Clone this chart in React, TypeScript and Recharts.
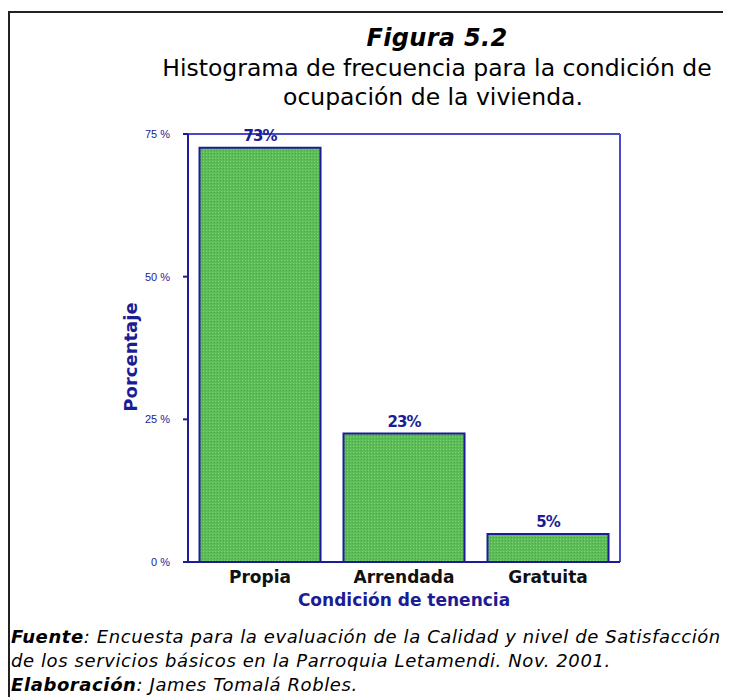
import React from 'react';
import { BarChart, Bar, XAxis, YAxis, LabelList, CartesianGrid } from 'recharts';

const categories = ['Propia', 'Arrendada', 'Gratuita'];
const values = [72.6, 22.5, 4.9];
const valueLabels = ['73%', '23%', '5%'];
const yTicks = [0, 25, 50, 75];

const data = categories.map((c, i) => ({ name: c, value: values[i], label: valueLabels[i] }));

const NAVY = '#1c1c94';
const FRAME_BLUE = '#4a4ac8';
const FONT = '"DejaVu Sans", Verdana, sans-serif';

const YTick = (props: any) => {
  const { x, y, payload } = props;
  return (
    <text x={x} y={y} dy={4} textAnchor="end" fill={NAVY} fontSize={11} fontFamily="'Liberation Sans Narrow', 'Liberation Sans', Arial, sans-serif">
      {`${payload.value} %`}
    </text>
  );
};

const XTick = (props: any) => {
  const { x, y, payload } = props;
  return (
    <text x={x} y={y} dy={13} textAnchor="middle" fill="#111" fontSize={17} fontWeight="bold" fontFamily={FONT}>
      {payload.value}
    </text>
  );
};

const YLabel = (props: any) => {
  const vb = props.viewBox || { x: 0, y: 0, width: 0, height: 0 };
  const cx = vb.x + 17;
  const cy = vb.y + vb.height / 2 + 9;
  return (
    <text x={cx} y={cy} transform={`rotate(-90 ${cx} ${cy})`} textAnchor="middle" fill={NAVY} fontSize={18} fontWeight="bold" fontFamily={FONT}>
      Porcentaje
    </text>
  );
};

export default function App() {
  return (
    <div style={{ position: 'relative', width: 723, height: 689, overflow: 'hidden', background: '#fff' }}>
      <div style={{ position: 'absolute', left: 0, top: 3, width: 800, height: 800, borderLeft: '2px solid #222', borderTop: '2px solid #222' }} />
      <div style={{ position: 'absolute', left: 429, top: 16, transform: 'translateX(-50%)', whiteSpace: 'nowrap', fontFamily: FONT, fontSize: 24, letterSpacing: '0.3px', fontWeight: 'bold', fontStyle: 'italic', lineHeight: '29px', color: '#000' }}>
        Figura 5.2
      </div>
      <div style={{ position: 'absolute', left: 429, top: 46, transform: 'translateX(-50%)', whiteSpace: 'nowrap', fontFamily: FONT, fontSize: 23.5, lineHeight: '29px', color: '#000', textAlign: 'center' }}>
        Histograma de frecuencia para la condición de
      </div>
      <div style={{ position: 'absolute', left: 425, top: 75, transform: 'translateX(-50%)', whiteSpace: 'nowrap', fontFamily: FONT, fontSize: 23.5, lineHeight: '29px', color: '#000', textAlign: 'center' }}>
        ocupación de la vivienda.
      </div>

      <div style={{ position: 'absolute', left: 0, top: 0 }}>
        <BarChart
          width={700}
          height={620}
          data={data}
          margin={{ top: 126, right: 88, bottom: 0, left: 112 }}
          barCategoryGap="8%"
        >
          <defs>
            <pattern id="dots" width="3" height="3" patternUnits="userSpaceOnUse">
              <rect width="3" height="3" fill="#5cbd56" />
              <rect x="0" y="0" width="1" height="1" fill="#80d27a" />
              <rect x="2" y="1" width="1" height="1" fill="#4aa84a" />
            </pattern>
          </defs>
          <CartesianGrid
            stroke={FRAME_BLUE}
            strokeWidth={2}
            fill="none"
            horizontalCoordinatesGenerator={(p: any) => [p.offset.top]}
            verticalCoordinatesGenerator={(p: any) => [p.offset.left + p.offset.width]}
          />
          <XAxis
            dataKey="name"
            stroke={NAVY}
            strokeWidth={2}
            tickLine={false}
            tick={<XTick />}
            height={66}
            label={{ value: 'Condición de tenencia', position: 'insideBottom', offset: 22, fill: NAVY, fontSize: 17, fontWeight: 'bold', fontFamily: FONT }}
          />
          <YAxis
            domain={[0, 75]}
            ticks={yTicks}
            stroke={NAVY}
            strokeWidth={2}
            tickSize={5}
            tickMargin={13}
            tick={<YTick />}
            width={68}
            label={<YLabel />}
          />
          <Bar dataKey="value" fill="url(#dots)" stroke={NAVY} strokeWidth={2} isAnimationActive={false}>
            <LabelList dataKey="label" position="top" offset={7} fill={NAVY} fontSize={15} fontWeight="bold" fontFamily={FONT} style={{ letterSpacing: '-1px' }} />
          </Bar>
        </BarChart>
      </div>

      <div style={{ position: 'absolute', left: 3, top: 617, fontFamily: FONT, fontSize: 18, letterSpacing: '0.6px', fontStyle: 'italic', lineHeight: '24px', color: '#000', whiteSpace: 'nowrap' }}>
        <div><b>Fuente</b>: Encuesta para la evaluación de la Calidad y nivel de Satisfacción</div>
        <div>de los servicios básicos en la Parroquia Letamendi. Nov. 2001.</div>
        <div><b>Elaboración</b>: James Tomalá Robles.</div>
      </div>
    </div>
  );
}
